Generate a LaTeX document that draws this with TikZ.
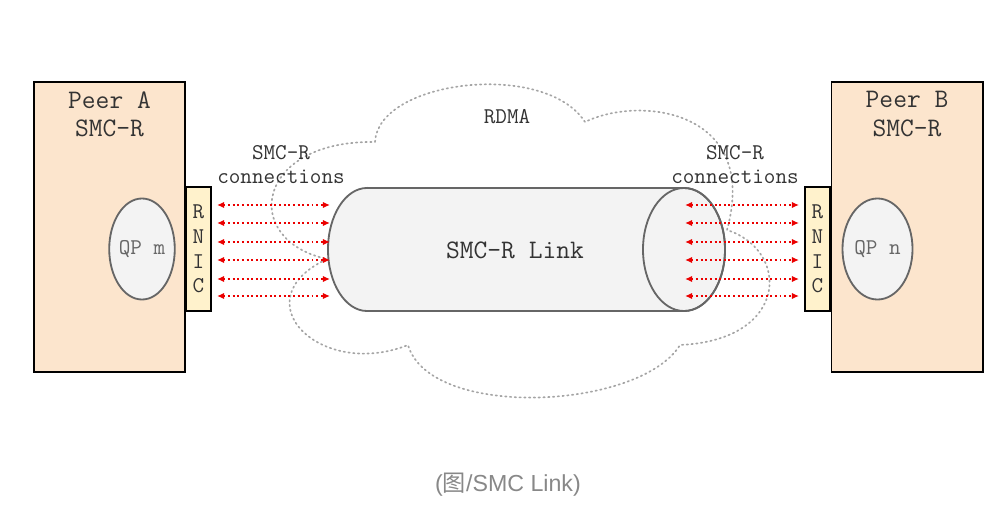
\documentclass[tikz,border=0pt]{standalone}
\usepackage{fontspec}
\usepackage{xcolor}
\usepackage{tikz}
\usetikzlibrary{arrows.meta,shapes.geometric}
\newfontfamily\cjk{Noto Sans CJK SC}
\newfontfamily\capfont{Liberation Sans}

\definecolor{melocoton}{RGB}{252,229,205}
\definecolor{crema}{RGB}{255,242,204}
\definecolor{grisclaro}{RGB}{243,243,243}
\definecolor{grisborde}{RGB}{102,102,102}
\definecolor{gristexto}{RGB}{51,51,51}
\definecolor{rojo}{RGB}{235,0,0}
\definecolor{nube}{RGB}{165,165,165}
\definecolor{pie}{RGB}{136,136,136}

\begin{document}
\begin{tikzpicture}[x=0.025cm, y=-0.025cm,
  peer/.style={draw=black, line width=1.4pt, fill=melocoton, minimum width=3.775cm, minimum height=7.25cm},
  rnic/.style={draw=black, line width=1.2pt, fill=crema, minimum width=0.625cm, minimum height=3.1cm, inner sep=0pt,
    align=center, text=gristexto, font=\ttfamily\fontsize{16}{17.5}\selectfont},
  qp/.style={ellipse, draw=grisborde, line width=1.3pt, fill=grisclaro, inner sep=0pt, minimum height=2.525cm,
    text=grisborde, font=\ttfamily\fontsize{16}{18}\selectfont},
  titulo/.style={align=center, text=gristexto, font=\ttfamily\fontsize{19}{20}\selectfont},
  etiqueta/.style={align=center, text=gristexto, font=\ttfamily\fontsize{16}{17}\selectfont},
  conexion/.style={rojo, line width=1.4pt, dash pattern=on 1.4pt off 1.9pt,
    {Latex[length=5pt,width=4.5pt]}-{Latex[length=5pt,width=4.5pt]}}]

\useasboundingbox (0,0) rectangle (1004,512);

% Nube RDMA
\draw[nube, line width=1.2pt, dash pattern=on 1pt off 2.4pt, line cap=round]
  (375,142) .. controls (378,80) and (545,60) .. (585,122)
  .. controls (640,95) and (760,110) .. (727,230)
  .. controls (790,250) and (790,340) .. (680,345)
  .. controls (640,410) and (430,420) .. (408,345)
  .. controls (320,380) and (240,300) .. (327,259)
  .. controls (240,240) and (255,140) .. (375,142);
\node[etiqueta] (rdma) at (507,117) {RDMA};

% Cilindro del enlace
\draw[grisborde, line width=1.3pt, fill=grisclaro]
  (367,188) -- (684,188)
  arc[start angle=90, end angle=-90, x radius=1.025cm, y radius=1.5375cm]
  -- (367,311)
  arc[start angle=270, end angle=90, x radius=0.975cm, y radius=1.5375cm]
  -- cycle;
\draw[grisborde, line width=1.3pt] (684,249.5) circle[x radius=1.025cm, y radius=1.5375cm];
\node[titulo] (link) at (515,250) {SMC-R Link};

% Pares
\node[peer] (peerA) at (109.5,227) {};
\node[peer] (peerB) at (907,227) {};
\node[titulo] (tA) at (109.5,114) {Peer A\\SMC-R};
\node[titulo] (tB) at (907,114) {Peer B\\SMC-R};
\node[qp, minimum width=1.6cm] (qpm) at (142,249) {QP m};
\node[qp, minimum width=1.75cm] (qpn) at (877.5,249) {QP n};
\node[rnic] (rnicA) at (198.5,249) {R\\N\\I\\C};
\node[rnic] (rnicB) at (817.5,249) {R\\N\\I\\C};

% Conexiones
\node[etiqueta] (cA) at (281,165) {SMC-R\\connections};
\node[etiqueta] (cB) at (735,165) {SMC-R\\connections};
\foreach \y [count=\i] in {205,223,242,260,279,296} {
  \coordinate (ia\i) at (217,\y);
  \coordinate (ib\i) at (330,\y);
  \draw[conexion] (ia\i) -- (ib\i);
  \coordinate (da\i) at (685,\y);
  \coordinate (db\i) at (799,\y);
  \draw[conexion] (da\i) -- (db\i);
}

% Pie de figura
\node[text=pie, font=\fontsize{16.5}{18}\selectfont] (pie) at (508,485) {\capfont(\cjk 图\capfont/SMC Link)};

\end{tikzpicture}
\end{document}
